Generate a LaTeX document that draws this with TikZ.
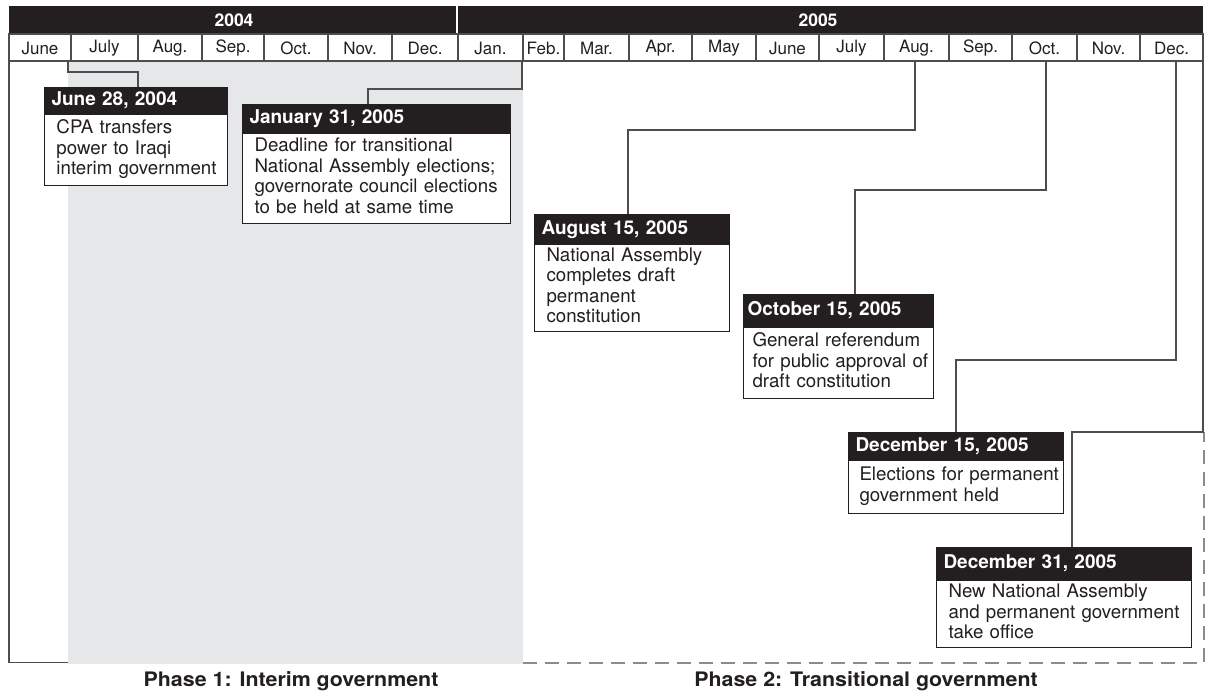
\documentclass[tikz,border=0pt]{standalone}
\usepackage{fontspec}
\setmainfont{TeX Gyre Heros}
\usetikzlibrary{calc}
\definecolor{ink}{HTML}{231F20}
\definecolor{phasegray}{HTML}{E6E7E8}
\definecolor{rulec}{HTML}{4D4D4D}
\definecolor{dashc}{HTML}{8C8C8C}
\newenvironment{bodylines}[1][12pt]{\begin{tabular}{@{\hspace{#1}}l@{}}}{\end{tabular}}
\begin{document}
\begin{tikzpicture}[x=1pt,y=-1pt,
 hdr/.style={draw=ink, fill=ink, text=white, font=\fontsize{19}{20}\selectfont\bfseries, anchor=north west, inner xsep=7pt, inner ysep=0pt, align=left, text height=13.5pt, text depth=3.5pt, line width=1pt},
 bodybox/.style={draw=ink, line width=1pt, fill=white, text=ink, font=\fontsize{18.7}{20.5}\selectfont, anchor=north west, inner xsep=0pt, inner ysep=0pt, align=left},
 conn/.style={draw=rulec, line width=1.2pt},
 frameline/.style={draw=rulec, line width=1.2pt},
 dashline/.style={draw=dashc, line width=1.1pt, dash pattern=on 14pt off 8pt},
 month/.style={font=\fontsize{17}{17}\selectfont, text=ink, inner sep=0pt},
 yearlab/.style={font=\fontsize{17.5}{18}\selectfont\bfseries, text=white, inner sep=0pt},
 phase/.style={font=\fontsize{20}{21}\selectfont\bfseries, text=ink, inner sep=0pt}]
\useasboundingbox (0,0) rectangle (1205,696);

% shaded phase-1 region
\fill[phasegray] (68,61) rectangle (523,663.5);

% header band
\fill[ink] (9,6) rectangle (1203,34);
\draw[white, line width=2pt] (457,6) -- (457,34);
\node[yearlab] (y2004) at (234,20.5) {2004};
\node[yearlab] (y2005) at (818,20.5) {2005};

% month row
\draw[frameline] (9,34) rectangle (1203,61);
\foreach \x in {71,138,202,264,328,392,458,523,564,629,692,756,819,884,949,1012,1077,1140}
  \draw[frameline] (\x,34) -- (\x,61);
\node[month] (m01) at (40,48) {June};
\node[month] (m02) at (104.5,48) {July};
\node[month] (m03) at (170,48) {Aug.};
\node[month] (m04) at (233,48) {Sep.};
\node[month] (m05) at (296,48) {Oct.};
\node[month] (m06) at (360,48) {Nov.};
\node[month] (m07) at (425,48) {Dec.};
\node[month] (m08) at (490.5,48) {Jan.};
\node[month] (m09) at (543.5,48) {Feb.};
\node[month] (m10) at (596.5,48) {Mar.};
\node[month] (m11) at (660.5,48) {Apr.};
\node[month] (m12) at (724,48) {May};
\node[month] (m13) at (787.5,48) {June};
\node[month] (m14) at (851.5,48) {July};
\node[month] (m15) at (916.5,48) {Aug.};
\node[month] (m16) at (980.5,48) {Sep.};
\node[month] (m17) at (1044.5,48) {Oct.};
\node[month] (m18) at (1108.5,48) {Nov.};
\node[month] (m19) at (1171.5,48) {Dec.};

% outer frame (left and bottom of phase 1)
\draw[frameline] (9,61) -- (9,662.5) -- (68,662.5);
% dashed frame of phase 2
\draw[dashline] (523,663) -- (1204,663) -- (1204,432);

% connector anchors
\coordinate (t1) at (68,61);   \coordinate (e1) at (138,72);
\coordinate (t2) at (522,61);  \coordinate (e2) at (368,89);
\coordinate (t3) at (915,61);  \coordinate (e3) at (628,130);
\coordinate (t4) at (1046,61); \coordinate (e4) at (855,190);
\coordinate (t5) at (1176,61); \coordinate (e5) at (956,360);
\coordinate (t6) at (1203,61); \coordinate (e6) at (1072,432);

% event boxes
\node[hdr, text width=169pt, minimum height=26pt] (h1) at (44,87) {June 28, 2004};
\node[bodybox, text width=183pt, minimum height=71pt] (b1) at (h1.south west) {\begin{bodylines}CPA transfers\\power to Iraqi\\interim government\end{bodylines}};

\node[hdr, text width=254pt, minimum height=28pt] (h2) at (242,104) {January 31, 2005};
\node[bodybox, text width=268pt, minimum height=90pt] (b2) at (h2.south west) {\begin{bodylines}Deadline for transitional\\National Assembly elections;\\governorate council elections\\to be held at same time\end{bodylines}};

\node[hdr, text width=181pt, minimum height=29pt] (h3) at (534,214) {August 15, 2005};
\node[bodybox, text width=195pt, minimum height=87pt] (b3) at (h3.south west) {\begin{bodylines}National Assembly\\completes draft\\permanent\\constitution\end{bodylines}};

\node[hdr, inner xsep=4pt, text width=182pt, minimum height=32pt] (h4) at (743,294) {October 15, 2005};
\node[bodybox, text width=190pt, minimum height=71pt] (b4) at (h4.south west) {\begin{bodylines}[9pt]General referendum\\for public approval of\\draft constitution\end{bodylines}};

\node[hdr, text width=201pt, minimum height=27pt] (h5) at (848,432) {December 15, 2005};
\node[bodybox, text width=215pt, minimum height=53pt] (b5) at (h5.south west) {\begin{bodylines}[11pt]Elections for permanent\\government held\end{bodylines}};

\node[hdr, text width=241pt, minimum height=32pt] (h6) at (936,547) {December 31, 2005};
\node[bodybox, text width=255pt, minimum height=67pt] (b6) at (h6.south west) {\begin{bodylines}New National Assembly\\and permanent government\\take office\end{bodylines}};

% connectors
\draw[conn] (t1) |- (e1) -- (h1.north -| e1);
\draw[conn] (t2) |- (e2) -- (h2.north -| e2);
\draw[conn] (t3) |- (e3) -- (h3.north -| e3);
\draw[conn] (t4) |- (e4) -- (h4.north -| e4);
\draw[conn] (t5) |- (e5) -- (h5.north -| e5);
\draw[conn] (t6) |- (e6) -- (h6.north -| e6);

% phase labels
\node[phase] (p1) at (291,681) {\scalebox{1.07}[1]{Phase 1: Interim government}};
\node[phase] (p2) at (866,681) {\scalebox{1.07}[1]{Phase 2: Transitional government}};
\end{tikzpicture}
\end{document}
